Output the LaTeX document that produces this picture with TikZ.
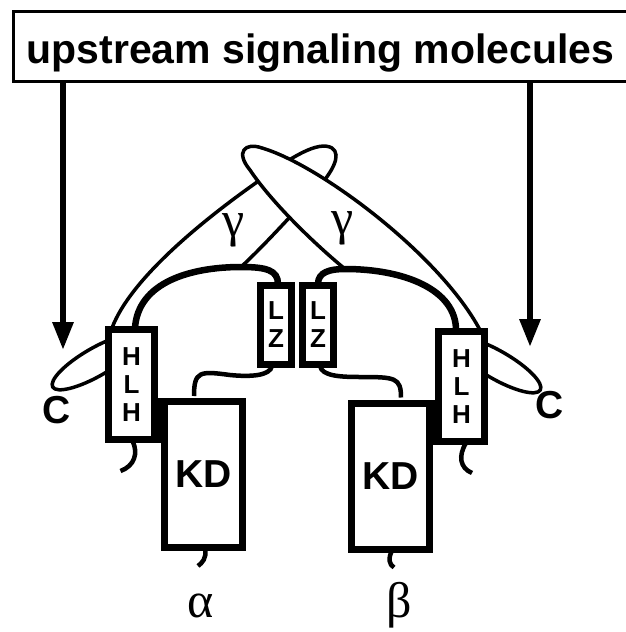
\documentclass[tikz,border=0pt]{standalone}
\usepackage{fontspec}
\setmainfont{Liberation Sans}
\newfontfamily\greekfont{Liberation Serif}
\usetikzlibrary{arrows.meta,calc}

\begin{document}
\begin{tikzpicture}[x=1pt,y=-1pt,
  dom/.style={draw,line width=7pt,fill=white,inner sep=0pt,align=center,
    font=\bfseries\fontsize{26}{28}\selectfont},
  hlh/.style={dom,minimum width=46pt,minimum height=110pt},
  lz/.style={dom,minimum width=31pt,minimum height=79pt},
  kd/.style={dom,minimum width=78pt,minimum height=146pt,
    font=\bfseries\fontsize{39}{39}\selectfont},
  linker/.style={line width=6.5pt},
  loopline/.style={line width=3.5pt},
  tailline/.style={line width=4.5pt},
  signal/.style={line width=6pt,-{Triangle[length=28pt,width=20pt]}},
  greek/.style={font=\greekfont\fontsize{50}{50}\selectfont,inner sep=0pt},
  cend/.style={font=\bfseries\fontsize{39}{39}\selectfont,inner sep=0pt}]
  \useasboundingbox (0,0) rectangle (626,632);

  % Upstream box and signal arrows
  \node[draw,line width=3pt,minimum width=614pt,minimum height=70pt,
    text height=37pt,text depth=4pt,inner sep=0pt,
    font=\bfseries\fontsize{41}{41}\selectfont] (upstream) at (320.5,46.5)
    {upstream signaling molecules};
  \coordinate (tipL) at (63,350);
  \coordinate (tipR) at (530,347);
  \draw[signal] (upstream.south -| tipL) -- (tipL);
  \draw[signal] (upstream.south -| tipR) -- (tipR);

  % C-terminal loops (half hidden by the HLH boxes)
  \draw[loopline,rotate around={30:(96,362)}] (96,362) ellipse (50 and 14);
  \draw[loopline,rotate around={-30:(497,365)}] (497,365) ellipse (50 and 14);

  % Domains
  \node[hlh] (hlhL) at (131.5,384.5) {H\\L\\H};
  \node[hlh] (hlhR) at (461.5,386.5) {H\\L\\H};
  \node[lz] (lzL) at (276,325) {L\\Z};
  \node[lz] (lzR) at (318,325) {L\\Z};
  \node[kd] (kdL) at (203.5,474.5) {KD};
  \node[kd] (kdR) at (390.5,476) {KD};
  % HLH joined to KD
  \fill (hlhL.east |- kdL.north) rectangle (kdL.west |- hlhL.south);
  \fill (kdR.east |- kdR.north) rectangle (hlhR.west |- hlhR.south);

  % Junctions on the linkers
  \coordinate (jL) at (241,267);
  \coordinate (jR) at (345,269);

  % Left gamma (passes behind the right one)
  \draw[loopline] ([xshift=7pt,yshift=-2pt]hlhL.north west)
    .. controls (130,280) and (200,222) .. (260,180)
    .. controls (290,158) and (318,140) .. (332,148)
    .. controls (342,155) and (332,172) .. (318,188)
    .. controls (300,205) and (270,240) .. (jL);

  % Right gamma
  \fill[white] ([xshift=-8pt]hlhR.north east)
    .. controls (440,255) and (320,165) .. (262,148)
    .. controls (245,142) and (235,152) .. (250,170)
    .. controls (270,200) and (310,240) .. (jR) -- cycle;
  \draw[loopline] ([xshift=-8pt,yshift=-2pt]hlhR.north east)
    .. controls (440,255) and (320,165) .. (262,148)
    .. controls (245,142) and (235,152) .. (250,170)
    .. controls (270,200) and (310,240) .. (jR);

  % Linkers HLH - LZ
  \draw[linker] ([xshift=3.5pt,yshift=-2pt]hlhL.north)
    .. controls +(3,-46) and +(-50,0) .. (jL)
    .. controls +(25,0) and +(0,-14) .. ([xshift=2pt,yshift=-2pt]lzL.north);
  \draw[linker] ([yshift=-2pt]lzR.north)
    .. controls +(0,-12) and +(-15,0) .. (jR)
    .. controls +(60,0) and +(0,-40) .. ([xshift=-5.5pt,yshift=-2pt]hlhR.north);

  % LZ - KD
  \draw[tailline] ([xshift=-4pt,yshift=2pt]lzL.south)
    .. controls +(-2,10) and +(20,2) .. (230,375)
    .. controls +(-30,-4) and +(0,-25) .. ([xshift=-9.5pt,yshift=2pt]kdL.north);
  \draw[tailline] ([xshift=2pt,yshift=2pt]lzR.south)
    .. controls +(2,10) and +(-20,0) .. (360,377)
    .. controls +(35,0) and +(0,-20) .. ([xshift=10.5pt,yshift=2pt]kdR.north);

  % Free ends
  \draw[tailline] ([xshift=1pt,yshift=2pt]hlhL.south)
    .. controls +(6,12) and +(14,-5) .. +(-12,30);
  \draw[tailline] ([xshift=4.5pt,yshift=2pt]hlhR.south)
    .. controls +(-8,13) and +(-12,-5) .. +(6,30);
  \draw[tailline] ([xshift=1.5pt,yshift=2pt]kdL.south)
    .. controls +(2,9) and +(4,-3) .. +(-7,17);
  \draw[tailline] ([xshift=1.5pt,yshift=2pt]kdR.south)
    .. controls +(-4,8) and +(-5,-3) .. +(2,17);

  % Labels
  \node[greek] (gammaL) at (234,230) {γ};
  \node[greek] (gammaR) at (343,228) {γ};
  \node[cend] (cL) at (57,410) {C};
  \node[cend] (cR) at (550,405) {C};
  \node[greek,anchor=base] (alpha) at (201,617) {α};
  \node[greek,anchor=base] (beta) at (399,617) {β};
\end{tikzpicture}
\end{document}
